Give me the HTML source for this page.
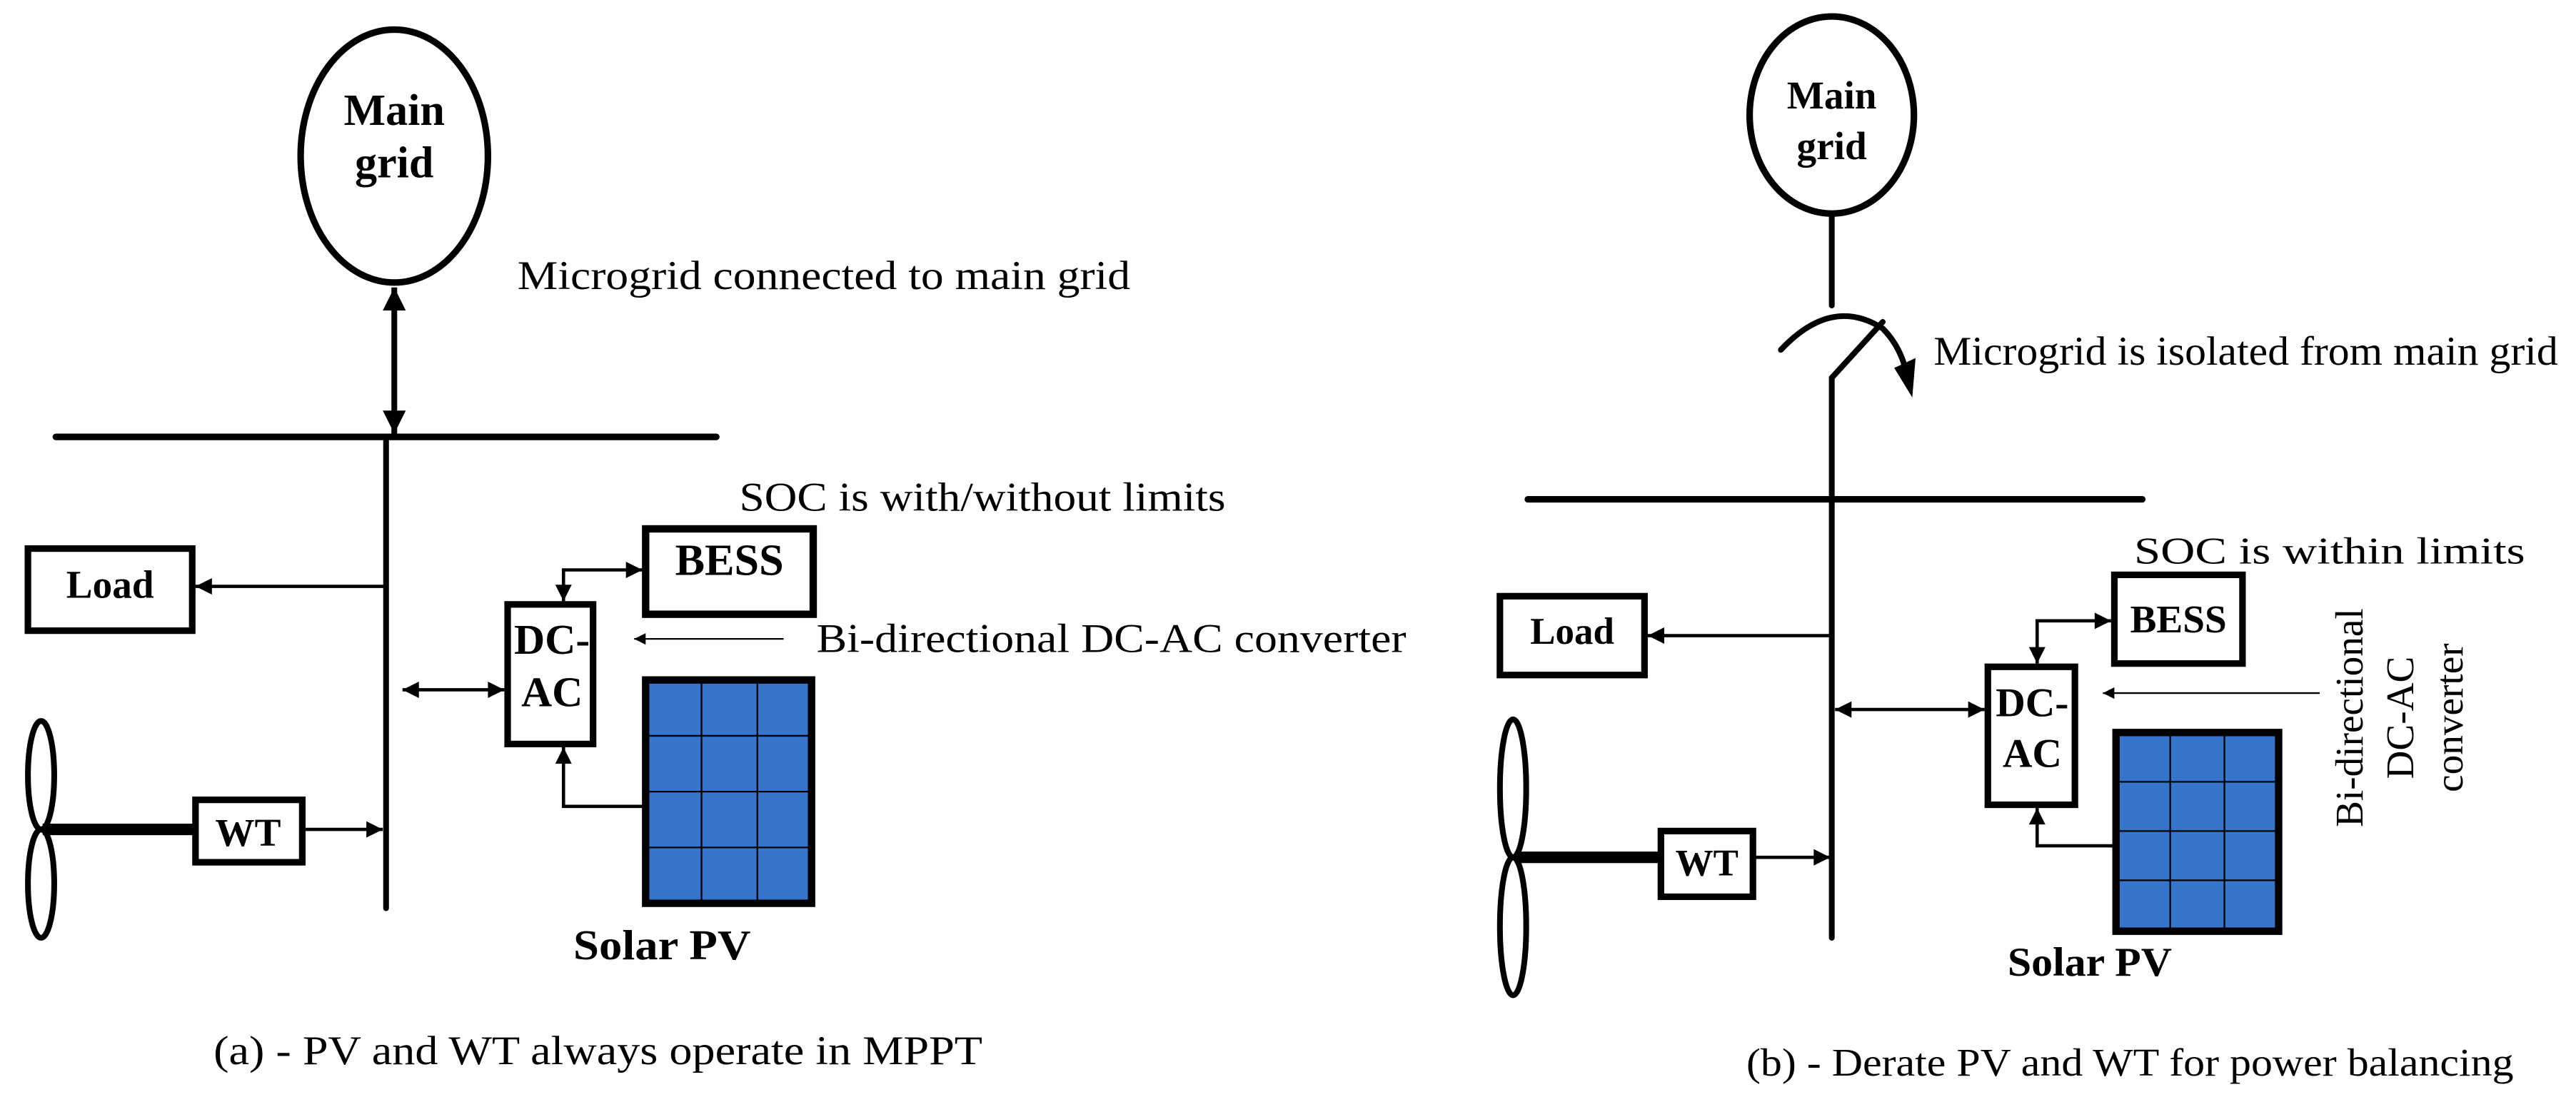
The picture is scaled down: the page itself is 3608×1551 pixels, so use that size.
<!DOCTYPE html>
<html><head><meta charset="utf-8"><style>
html,body{margin:0;padding:0;background:#fff;}
svg{display:block;}
text{font-family:"Liberation Serif",serif;fill:#000;}
.b{font-weight:bold;}
</style></head><body>
<svg width="3608" height="1551" viewBox="0 0 1568 674" xmlns="http://www.w3.org/2000/svg">
<defs>
<marker id="ahs" viewBox="0 0 10 10" refX="10" refY="5" markerWidth="10" markerHeight="7" orient="auto-start-reverse" markerUnits="userSpaceOnUse"><path d="M0,0 L10,5 L0,10 z" fill="#000"/></marker>
<marker id="ahm" viewBox="0 0 10 10" refX="10" refY="5" markerWidth="14" markerHeight="10" orient="auto-start-reverse" markerUnits="userSpaceOnUse"><path d="M0,0 L10,5 L0,10 z" fill="#000"/></marker>
<marker id="ahb" viewBox="0 0 10 10" refX="10" refY="5" markerWidth="26" markerHeight="14" orient="auto-start-reverse" markerUnits="userSpaceOnUse"><path d="M0,0 L10,5 L0,10 z" fill="#000"/></marker>
</defs>

<!-- ========== LEFT (a) ========== -->
<ellipse cx="240" cy="95" rx="57" ry="77" fill="none" stroke="#000" stroke-width="4"/>
<text x="240" y="76" class="b" font-size="27" text-anchor="middle">Main</text>
<text x="240" y="108" class="b" font-size="27" text-anchor="middle">grid</text>
<line x1="240" y1="175" x2="240" y2="264" stroke="#000" stroke-width="3.5" marker-start="url(#ahb)" marker-end="url(#ahb)"/>
<text x="315" y="176" font-size="25" textLength="373" lengthAdjust="spacingAndGlyphs">Microgrid connected to main grid</text>
<line x1="34" y1="266" x2="436" y2="266" stroke="#000" stroke-width="4" stroke-linecap="round"/>
<line x1="235" y1="266" x2="235" y2="553" stroke="#000" stroke-width="3.5" stroke-linecap="round"/>

<rect x="17" y="334" width="100" height="50" fill="#fff" stroke="#000" stroke-width="4"/>
<text x="67" y="364" class="b" font-size="24" text-anchor="middle">Load</text>
<line x1="235" y1="357" x2="119" y2="357" stroke="#000" stroke-width="2" marker-end="url(#ahm)"/>

<line x1="26" y1="505" x2="119" y2="505" stroke="#000" stroke-width="7"/>
<ellipse cx="25" cy="472" rx="8" ry="33" fill="none" stroke="#000" stroke-width="3.5"/>
<ellipse cx="25" cy="538" rx="8" ry="33" fill="none" stroke="#000" stroke-width="3.5"/>
<rect x="119" y="487" width="65" height="38" fill="#fff" stroke="#000" stroke-width="4"/>
<text x="151" y="515" class="b" font-size="24" text-anchor="middle">WT</text>
<line x1="186" y1="505" x2="233" y2="505" stroke="#000" stroke-width="2" marker-end="url(#ahm)"/>

<rect x="309" y="368" width="52" height="85" fill="#fff" stroke="#000" stroke-width="4"/>
<text x="336" y="398" class="b" font-size="26" text-anchor="middle">DC-</text>
<text x="336" y="430" class="b" font-size="26" text-anchor="middle">AC</text>
<line x1="245" y1="420" x2="307" y2="420" stroke="#000" stroke-width="2" marker-start="url(#ahm)" marker-end="url(#ahm)"/>

<rect x="393" y="322" width="102" height="52" fill="#fff" stroke="#000" stroke-width="4.5"/>
<text x="444" y="350" class="b" font-size="27" text-anchor="middle">BESS</text>
<text x="450" y="311" font-size="25" textLength="296" lengthAdjust="spacingAndGlyphs">SOC is with/without limits</text>
<polyline points="391,347 343,347 343,366" fill="none" stroke="#000" stroke-width="2" marker-start="url(#ahm)" marker-end="url(#ahm)"/>

<line x1="477" y1="389" x2="386" y2="389" stroke="#000" stroke-width="1" marker-end="url(#ahs)"/>
<text x="497" y="397" font-size="25" textLength="359" lengthAdjust="spacingAndGlyphs">Bi-directional DC-AC converter</text>

<rect x="393" y="414" width="101" height="136" fill="#3575cc" stroke="#000" stroke-width="4.5"/>
<g stroke="#000" stroke-width="1">
<line x1="427" y1="414" x2="427" y2="550"/><line x1="461" y1="414" x2="461" y2="550"/>
<line x1="393" y1="448" x2="494" y2="448"/><line x1="393" y1="482" x2="494" y2="482"/><line x1="393" y1="516" x2="494" y2="516"/>
</g>
<polyline points="391,491 343,491 343,455" fill="none" stroke="#000" stroke-width="2" marker-end="url(#ahm)"/>
<text x="349" y="584" class="b" font-size="26" textLength="108" lengthAdjust="spacingAndGlyphs">Solar PV</text>
<text x="130" y="648" font-size="25" textLength="468" lengthAdjust="spacingAndGlyphs">(a) - PV and WT always operate in MPPT</text>

<!-- ========== RIGHT (b) ========== -->
<ellipse cx="1115" cy="70" rx="50" ry="60" fill="none" stroke="#000" stroke-width="4"/>
<text x="1115" y="66" class="b" font-size="24" text-anchor="middle">Main</text>
<text x="1115" y="97" class="b" font-size="24" text-anchor="middle">grid</text>
<line x1="1115" y1="130" x2="1115" y2="186" stroke="#000" stroke-width="3.5" stroke-linecap="round"/>
<path d="M1084,213 Q1115,180 1146,200 Q1156,210 1160,225" fill="none" stroke="#000" stroke-width="3.5" stroke-linecap="round"/>
<path d="M1153,224 L1166,218 L1164,242 z" fill="#000"/>
<polyline points="1146,196 1115,230 1115,571" fill="none" stroke="#000" stroke-width="3.5" stroke-linecap="round"/>
<text x="1177" y="222" font-size="25" textLength="380" lengthAdjust="spacingAndGlyphs">Microgrid is isolated from main grid</text>
<line x1="930" y1="304" x2="1304" y2="304" stroke="#000" stroke-width="4" stroke-linecap="round"/>

<rect x="913" y="363" width="88" height="48" fill="#fff" stroke="#000" stroke-width="4"/>
<text x="957" y="392" class="b" font-size="23" text-anchor="middle">Load</text>
<line x1="1115" y1="387" x2="1003" y2="387" stroke="#000" stroke-width="2" marker-end="url(#ahm)"/>

<line x1="922" y1="522" x2="1010" y2="522" stroke="#000" stroke-width="7"/>
<ellipse cx="921" cy="480" rx="8" ry="42" fill="none" stroke="#000" stroke-width="3.5"/>
<ellipse cx="921" cy="564" rx="8" ry="42" fill="none" stroke="#000" stroke-width="3.5"/>
<rect x="1011" y="506" width="56" height="40" fill="#fff" stroke="#000" stroke-width="4"/>
<text x="1039" y="533" class="b" font-size="23" text-anchor="middle">WT</text>
<line x1="1068" y1="522" x2="1114" y2="522" stroke="#000" stroke-width="2" marker-end="url(#ahm)"/>

<rect x="1210" y="406" width="53" height="84" fill="#fff" stroke="#000" stroke-width="4"/>
<text x="1237" y="436" class="b" font-size="25" text-anchor="middle">DC-</text>
<text x="1237" y="467" class="b" font-size="25" text-anchor="middle">AC</text>
<line x1="1117" y1="432" x2="1208" y2="432" stroke="#000" stroke-width="2" marker-start="url(#ahm)" marker-end="url(#ahm)"/>

<rect x="1287" y="350" width="78" height="54" fill="#fff" stroke="#000" stroke-width="4"/>
<text x="1326" y="385" class="b" font-size="24" text-anchor="middle">BESS</text>
<text x="1299" y="343" font-size="23" textLength="238" lengthAdjust="spacingAndGlyphs">SOC is within limits</text>
<polyline points="1285,378 1240,378 1240,404" fill="none" stroke="#000" stroke-width="2" marker-start="url(#ahm)" marker-end="url(#ahm)"/>

<line x1="1412" y1="422" x2="1280" y2="422" stroke="#000" stroke-width="1" marker-end="url(#ahs)"/>
<g transform="translate(1438,437) rotate(-90)"><text x="0" y="0" font-size="24" text-anchor="middle">Bi-directional</text></g>
<g transform="translate(1469,437) rotate(-90)"><text x="0" y="0" font-size="24" text-anchor="middle">DC-AC</text></g>
<g transform="translate(1499,437) rotate(-90)"><text x="0" y="0" font-size="24" text-anchor="middle">converter</text></g>

<rect x="1288" y="446" width="99" height="121" fill="#3575cc" stroke="#000" stroke-width="4.5"/>
<g stroke="#000" stroke-width="1">
<line x1="1321" y1="446" x2="1321" y2="567"/><line x1="1354" y1="446" x2="1354" y2="567"/>
<line x1="1288" y1="476" x2="1387" y2="476"/><line x1="1288" y1="506" x2="1387" y2="506"/><line x1="1288" y1="536" x2="1387" y2="536"/>
</g>
<polyline points="1286,515 1240,515 1240,492" fill="none" stroke="#000" stroke-width="2" marker-end="url(#ahm)"/>
<text x="1222" y="594" class="b" font-size="25" textLength="100" lengthAdjust="spacingAndGlyphs">Solar PV</text>
<text x="1063" y="655" font-size="24" textLength="467" lengthAdjust="spacingAndGlyphs">(b) - Derate PV and WT for power balancing</text>
</svg>
</body></html>
